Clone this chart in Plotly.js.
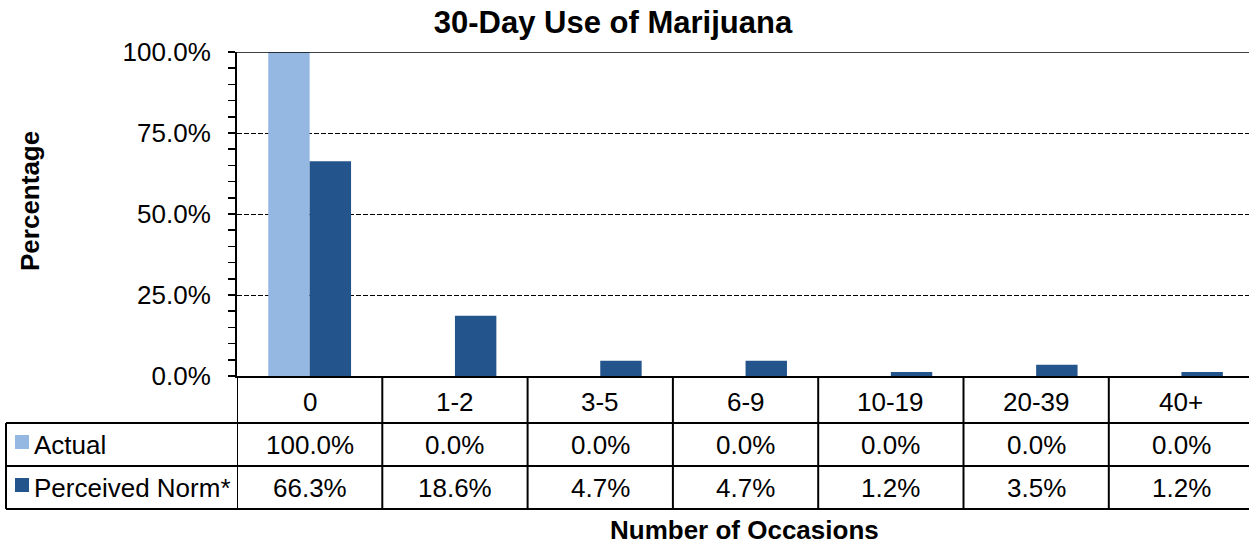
<!DOCTYPE html>
<html>
<head>
<meta charset="utf-8">
<script src="https://cdn.plot.ly/plotly-3.0.1.min.js"></script>
<style>html,body{margin:0;padding:0;background:#fff;}#chart{width:1249px;height:546px;}</style>
</head>
<body>
<div id="chart"></div>
<script>
const categories = ["0", "1-2", "3-5", "6-9", "10-19", "20-39", "40+"];
const seriesNames = ["Actual", "Perceived Norm*"];
const actual = [100.0, 0.0, 0.0, 0.0, 0.0, 0.0, 0.0];
const perceived = [66.3, 18.6, 4.7, 4.7, 1.2, 3.5, 1.2];
const yTicks = [0, 25, 50, 75, 100];
const colors = ["rgb(149,184,226)", "rgb(36,84,140)"];

const FONT = "Liberation Sans, Arial, sans-serif";
const W = 1249, H = 546;
const L = 237, T = 52, B = 170;
const plotH = H - T - B;
const plotW = W - L;
const px2py = p => (H - B - p) / plotH;   // pixel y -> paper y
const px2px = p => (p - L) / plotW;        // pixel x -> paper x

const idx = categories.map((c, i) => i);

const traces = [
  {type: "bar", x: idx, y: actual, name: seriesNames[0], marker: {color: colors[0]}, hoverinfo: "none"},
  {type: "bar", x: idx, y: perceived, name: seriesNames[1], marker: {color: colors[1]}, hoverinfo: "none"}
];

const shapes = [];
const annotations = [];
const line = {color: "black", width: 2};

// top border line at 100%
shapes.push({type: "line", xref: "paper", yref: "y", x0: 0, x1: 1, y0: 100, y1: 100, line: {color: "black", width: 1.5}});

// table geometry (pixels)
const rowTops = [376, 423, 466, 509];
const rowY = rowTops.map(px2py);
const tableLeft = px2px(6);

// horizontal lines
shapes.push({type: "line", xref: "paper", yref: "paper", x0: tableLeft, x1: 1, y0: rowY[1], y1: rowY[1], line});
shapes.push({type: "line", xref: "paper", yref: "paper", x0: tableLeft, x1: 1, y0: rowY[2], y1: rowY[2], line});
shapes.push({type: "line", xref: "paper", yref: "paper", x0: tableLeft, x1: 1, y0: rowY[3], y1: rowY[3], line});
// left border of legend column
shapes.push({type: "line", xref: "paper", yref: "paper", x0: tableLeft, x1: tableLeft, y0: rowY[1], y1: rowY[3], line});
// vertical lines at category boundaries
for (let k = 0; k <= categories.length; k++) {
  shapes.push({type: "line", xref: "x", yref: "paper", x0: k - 0.5, x1: k - 0.5, y0: rowY[0], y1: rowY[3], line});
}

const cellFont = {family: FONT, size: 26, color: "black"};
const catY = px2py(402), actY = px2py(445), perY = px2py(488);
categories.forEach((c, i) => {
  annotations.push({xref: "x", yref: "paper", x: i, y: catY, text: c, showarrow: false, font: cellFont, xanchor: "center", yanchor: "middle"});
  annotations.push({xref: "x", yref: "paper", x: i, y: actY, text: actual[i].toFixed(1) + "%", showarrow: false, font: cellFont, xanchor: "center", yanchor: "middle"});
  annotations.push({xref: "x", yref: "paper", x: i, y: perY, text: perceived[i].toFixed(1) + "%", showarrow: false, font: cellFont, xanchor: "center", yanchor: "middle"});
});

// legend keys in table
[[435, 449, actY, 0], [478, 492, perY, 1]].forEach(([t, b, cy, s]) => {
  shapes.push({type: "rect", xref: "paper", yref: "paper", x0: px2px(15), x1: px2px(29), y0: px2py(b), y1: px2py(t), fillcolor: colors[s], line: {width: 0}});
  annotations.push({xref: "paper", yref: "paper", x: px2px(32), y: cy, text: seriesNames[s], showarrow: false, font: cellFont, xanchor: "left", yanchor: "middle"});
});

// axis titles
annotations.push({xref: "paper", yref: "paper", x: px2px(30), y: px2py(201), text: "<b>Percentage</b>", textangle: -90, showarrow: false, font: cellFont, xanchor: "center", yanchor: "middle"});
annotations.push({xref: "paper", yref: "paper", x: px2px(744), y: px2py(530), text: "<b>Number of Occasions</b>", showarrow: false, font: cellFont, xanchor: "center", yanchor: "middle"});

const layout = {
  width: W, height: H,
  margin: {l: L, r: 0, t: T, b: B, pad: 0},
  paper_bgcolor: "white", plot_bgcolor: "white",
  showlegend: false,
  barmode: "group", bargap: 0.43, bargroupgap: 0,
  title: {text: "<b>30-Day Use of Marijuana</b>", font: {family: FONT, size: 31, color: "black"}, x: 613 / W, xref: "container", xanchor: "center", y: 1 - 22 / H, yref: "container", yanchor: "middle"},
  xaxis: {range: [-0.5, -0.5 + plotW / 145.3], showticklabels: false, ticks: "", showgrid: false, zeroline: false, showline: true, linecolor: "black", linewidth: 2, fixedrange: true},
  yaxis: {range: [0, 100], tickvals: yTicks, ticktext: yTicks.map(v => v.toFixed(1) + "%"),
    tickfont: {family: FONT, size: 26, color: "black"}, ticks: "outside", ticklen: 7, tickwidth: 2, tickcolor: "black",
    ticklabelstandoff: 12,
    minor: {tickvals: [5,10,15,20,30,35,40,45,55,60,65,70,80,85,90,95], ticks: "outside", ticklen: 7, tickwidth: 1.5, tickcolor: "black", showgrid: false},
    showgrid: true, gridcolor: "black", gridwidth: 1, griddash: "5px,2px",
    zeroline: false, showline: true, linecolor: "black", linewidth: 2, fixedrange: true},
  shapes, annotations,
  font: {family: FONT, color: "black"}
};

Plotly.newPlot("chart", traces, layout, {staticPlot: true, displayModeBar: false});
</script>
</body>
</html>
